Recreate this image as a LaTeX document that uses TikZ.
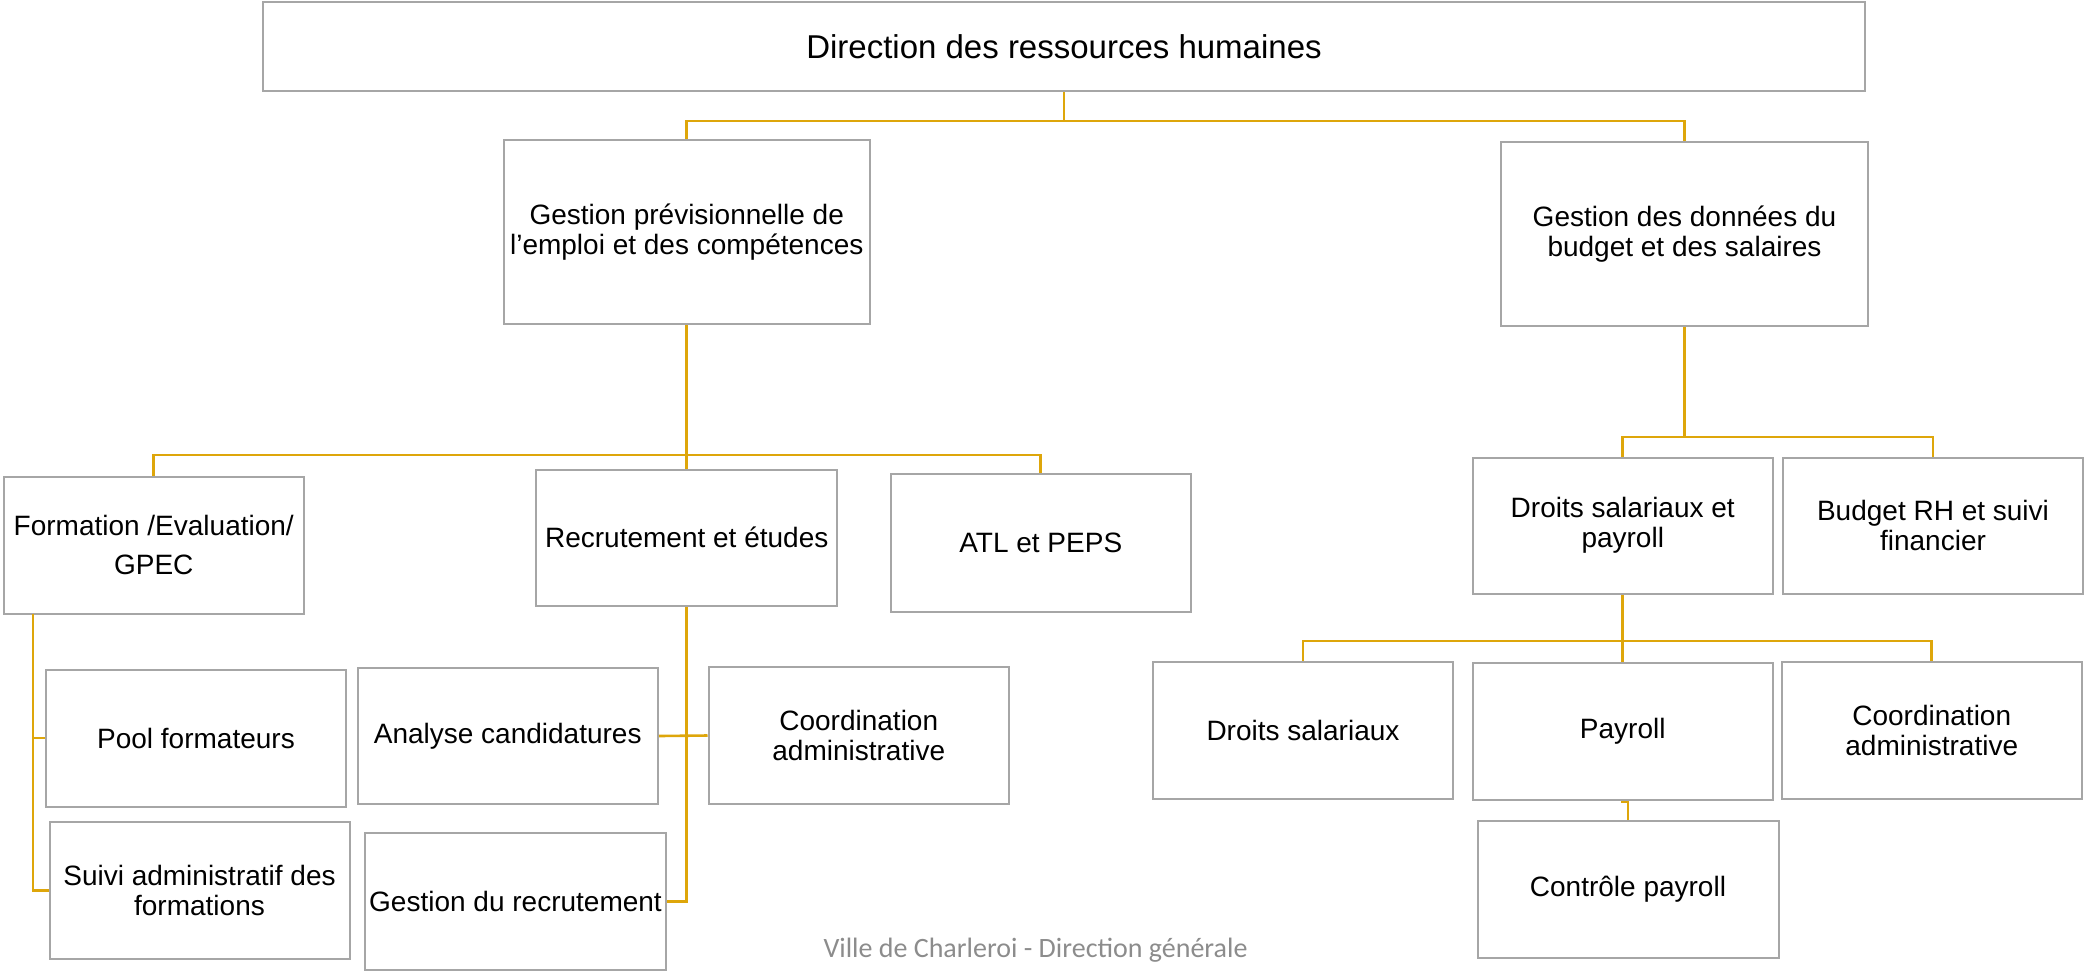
\documentclass[tikz,border=0pt]{standalone}
\usepackage{fontspec}
\setmainfont{Liberation Sans}
\newfontfamily\footfont{Carlito}
\definecolor{conncol}{RGB}{222,166,10}
\definecolor{boxcol}{RGB}{166,166,166}
\definecolor{footcol}{RGB}{140,140,140}
\tikzset{
  orgbox/.style={draw=boxcol, line width=1pt, fill=white, inner sep=0pt, align=center,
    font=\fontsize{14}{15}\selectfont},
  conn/.style={draw=conncol, line width=1.3pt},
}
\begin{document}
\begin{tikzpicture}[x=0.5pt,y=-0.5pt]
\useasboundingbox (0,0) rectangle (2085,971);
\coordinate (b1) at (1064,121);
\coordinate (b2) at (686.75,455);
\coordinate (fx) at (33,613.5);
\coordinate (b3) at (1684.5,437);
\coordinate (b4) at (1622.75,641);
\coordinate (jg) at (1622.75,802);

% boxes
\node[orgbox, minimum width=801pt, minimum height=44.5pt, font=\fontsize{16.5}{18}\selectfont] (top) at (1064,46.5) {Direction des ressources humaines};
\node[orgbox, minimum width=183.25pt, minimum height=92pt] (gpec) at (686.75,232) {Gestion prévisionnelle de\\l’emploi et des compétences};
\node[orgbox, minimum width=183.5pt, minimum height=92pt] (gdb) at (1684.5,234) {Gestion des données du\\budget et des salaires};
\node[orgbox, minimum width=149.75pt, minimum height=68.5pt] (form) at (153.75,545) {Formation /Evaluation/\\[4.5pt]GPEC};
\node[orgbox, minimum width=150.5pt, minimum height=68.25pt] (recr) at (686.75,537.75) {Recrutement et études};
\node[orgbox, minimum width=149.75pt, minimum height=69pt] (atl) at (1040.75,543) {ATL et PEPS};
\node[orgbox, minimum width=150pt, minimum height=68.5pt] (pool) at (196,738) {Pool formateurs};
\node[orgbox, minimum width=150pt, minimum height=68.75pt] (suivi) at (199.5,890.25) {Suivi administratif des\\formations};
\node[orgbox, minimum width=150.25pt, minimum height=68pt] (analyse) at (507.75,736) {Analyse candidatures};
\node[orgbox, minimum width=150.5pt, minimum height=68.5pt] (gestrec) at (515.5,901.5) {Gestion du recrutement};
\node[orgbox, minimum width=150.25pt, minimum height=68.5pt] (coordL) at (858.75,735.5) {Coordination\\administrative};
\node[orgbox, minimum width=150.25pt, minimum height=68pt] (dsp) at (1622.75,525.5) {Droits salariaux et\\payroll};
\node[orgbox, minimum width=150pt, minimum height=68pt] (budget) at (1933,525.5) {Budget RH et suivi\\financier};
\node[orgbox, minimum width=150pt, minimum height=68.5pt] (ds) at (1303,730) {Droits salariaux};
\node[orgbox, minimum width=149.75pt, minimum height=68.5pt] (payroll) at (1622.75,731) {Payroll};
\node[orgbox, minimum width=150.25pt, minimum height=68.5pt] (coordR) at (1931.75,730) {Coordination\\administrative};
\node[orgbox, minimum width=150.5pt, minimum height=68.25pt] (ctrl) at (1628,889.25) {Contrôle payroll};

\node[font=\footfont\fontsize{14}{16}\selectfont, text=footcol, inner sep=0pt] (foot) at (1035.5,950) {Ville de Charleroi - Direction générale};

% connectors
\draw[conn] (top.south) -- (b1) -| (gpec.north);
\draw[conn] (b1) -| (gdb.north);
\draw[conn] (gpec.south) -- (recr.north);
\draw[conn] (b2) -| (form.north);
\draw[conn] (b2) -| (atl.north);
\draw[conn] (fx) |- (pool.west);
\draw[conn] (fx) |- (suivi.west);
\draw[conn] (recr.south) |- (gestrec.east);
\draw[conn] (analyse.east) -- (coordL.west);
\draw[conn] (gdb.south) -- (b3);
\draw[conn] (b3) -| (dsp.north);
\draw[conn] (b3) -| (budget.north);
\draw[conn] (dsp.south) -- (payroll.north);
\draw[conn] (b4) -| (ds.north);
\draw[conn] (b4) -| (coordR.north);
\draw[conn] (payroll.south) -- (jg) -| (ctrl.north);
\end{tikzpicture}
\end{document}
